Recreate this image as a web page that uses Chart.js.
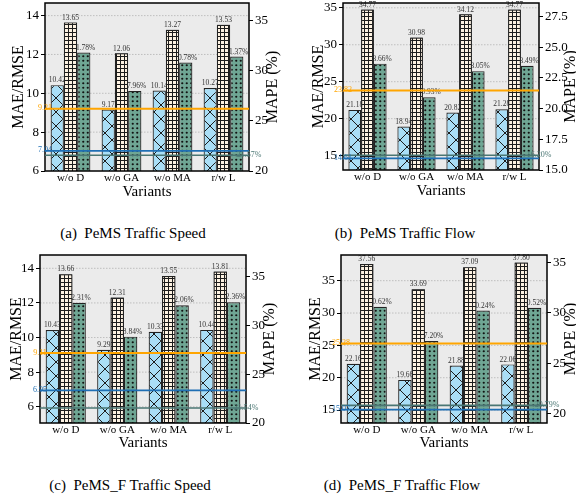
<!DOCTYPE html>
<html>
<head>
<meta charset="utf-8">
<script src="https://cdn.jsdelivr.net/npm/chart.js@4.4.1/dist/chart.umd.min.js"></script>
<style>
  body { margin: 0; background: #fff; width: 576px; height: 500px; position: relative; overflow: hidden; font-family: 'Liberation Serif', serif; }
  canvas { position: absolute; }
  .cap { position: absolute; font-size: 15px; line-height: 18px; white-space: pre; transform: translateX(-50%); color: #000; }
</style>
</head>
<body>
<canvas id="cA" width="288" height="200" style="left:0;top:0"></canvas>
<canvas id="cB" width="288" height="200" style="left:288px;top:0"></canvas>
<canvas id="cC" width="288" height="200" style="left:0;top:250px"></canvas>
<canvas id="cD" width="288" height="200" style="left:288px;top:250px"></canvas>
<div class="cap" style="left:133px;top:224px">(a)  PeMS Traffic Speed</div>
<div class="cap" style="left:405px;top:224px">(b)  PeMS Traffic Flow</div>
<div class="cap" style="left:130px;top:476px">(c)  PeMS_F Traffic Speed</div>
<div class="cap" style="left:402px;top:476px">(d)  PeMS_F Traffic Flow</div>
<script>
const FONT = "'Liberation Serif', 'Times New Roman', serif";
Chart.defaults.font.family = FONT;
Chart.defaults.color = '#000';

const variants = ['w/o D', 'w/o GA', 'w/o MA', 'r/w L'];

// (a) PeMS Traffic Speed
const maeA = [10.42, 9.17, 10.14, 10.27];
const rmseA = [13.65, 12.06, 13.27, 13.53];
const mapeA = [31.78, 27.96, 30.78, 31.37];
const refA = [9.21, 7.04, 21.57]; // orange, blue (MAE/RMSE axis), teal (MAPE axis)
const leftTicksA = ['6', '8', '10', '12', '14'];
const rightTicksA = ['20', '25', '30', '35'];
const leftRangeA = [6, 14.65];
const rightRangeA = [20, 36.7];

// (b) PeMS Traffic Flow
const maeB = [21.18, 18.94, 20.82, 21.28];
const rmseB = [34.77, 30.98, 34.12, 34.77];
const mapeB = [23.66, 20.93, 23.05, 23.49];
const refB = [23.82, 14.61, 16.20];
const leftTicksB = ['15', '20', '25', '30', '35'];
const rightTicksB = ['15.0', '17.5', '20.0', '22.5', '25.0', '27.5'];
const leftRangeB = [13.05, 35.65];
const rightRangeB = [15, 28.6];

// (c) PeMS_F Traffic Speed
const maeC = [10.43, 9.29, 10.33, 10.44];
const rmseC = [13.66, 12.31, 13.55, 13.81];
const mapeC = [32.31, 28.84, 32.06, 32.36];
const refC = [9.11, 6.95, 21.54];
const leftTicksC = ['6', '8', '10', '12', '14'];
const rightTicksC = ['20', '25', '30', '35'];
const leftRangeC = [5.06, 14.77];
const rightRangeC = [20, 37.2];

// (d) PeMS_F Traffic Flow
const maeD = [22.16, 19.66, 21.88, 22.06];
const rmseD = [37.56, 33.69, 37.09, 37.80];
const mapeD = [30.62, 27.20, 30.24, 30.52];
const refD = [25.28, 15.07, 20.79];
const leftTicksD = ['15', '20', '25', '30', '35'];
const rightTicksD = ['20', '25', '30', '35'];
const leftRangeD = [13, 38.97];
const rightRangeD = [19.03, 35.77];

// motifs des barres
function tile(size, draw) {
  const c = document.createElement('canvas');
  c.width = c.height = size;
  draw(c.getContext('2d'), size);
  return c;
}
const crossTile = tile(14, (g, s) => {
  g.fillStyle = '#a9def6'; g.fillRect(0, 0, s, s);
  g.strokeStyle = '#1c1c1c'; g.lineWidth = 1;
  g.beginPath();
  g.moveTo(-1, -1); g.lineTo(s + 1, s + 1);
  g.moveTo(s + 1, -1); g.lineTo(-1, s + 1);
  g.stroke();
});
const gridTile = tile(4, (g, s) => {
  g.fillStyle = '#fdf2e2'; g.fillRect(0, 0, s, s);
  g.fillStyle = '#1c1c1c'; g.fillRect(0, 0, s, 1); g.fillRect(0, 0, 1, s);
});
const dotTile = tile(9, (g, s) => {
  g.fillStyle = '#6fa694'; g.fillRect(0, 0, s, s);
  g.fillStyle = '#111';
  [[2.25, 2.25], [6.75, 2.25], [2.25, 6.75], [6.75, 6.75]].forEach(([x, y]) => {
    g.beginPath(); g.arc(x, y, 1.1, 0, Math.PI * 2); g.fill();
  });
});

const panelPlugin = {
  id: 'panel',
  beforeDraw(chart) {
    const { ctx, chartArea: a } = chart;
    const y = chart.scales.y;
    ctx.save();
    ctx.fillStyle = '#ebebeb';
    ctx.fillRect(a.left, a.top, a.width, a.height);
    ctx.strokeStyle = '#b4b4b4';
    ctx.lineWidth = 0.8;
    ctx.setLineDash([1.5, 1.5]);
    y.ticks.forEach(t => {
      const py = y.getPixelForValue(t.value);
      if (py > a.top + 1 && py < a.bottom - 1) {
        ctx.beginPath(); ctx.moveTo(a.left, py); ctx.lineTo(a.right, py); ctx.stroke();
      }
    });
    ctx.restore();
  },
  afterDatasetsDraw(chart, args, o) {
    const { ctx, chartArea: a } = chart;
    const label = (i, suffix) => {
      ctx.save();
      ctx.font = '7.5px ' + FONT;
      ctx.fillStyle = '#333';
      ctx.textAlign = 'center';
      ctx.textBaseline = 'bottom';
      chart.getDatasetMeta(i).data.forEach((bar, j) => {
        ctx.fillText(chart.data.datasets[i].data[j].toFixed(2) + suffix, bar.x, bar.y - 1);
      });
      ctx.restore();
    };
    label(0, '');
    label(2, '%');
    // les barres RMSE repassent par-dessus les étiquettes voisines
    ctx.save();
    ctx.beginPath(); ctx.rect(a.left, a.top, a.width, a.height); ctx.clip();
    chart.getDatasetMeta(1).data.forEach(bar => bar.draw(ctx));
    ctx.restore();
    label(1, '');

    ctx.save();
    // cadre
    ctx.strokeStyle = '#000'; ctx.lineWidth = 1.5;
    ctx.strokeRect(a.left, a.top, a.width, a.height);

    // lignes de référence
    const ly = chart.scales.y, ry = chart.scales.y1;
    const refs = [
      { s: ly, v: o.ref[0], c: '#ffa500', w: 2, side: 'left', suf: '' },
      { s: ly, v: o.ref[1], c: '#1f6fb4', w: 1.8, side: 'left', suf: '' },
      { s: ry, v: o.ref[2], c: '#4a7673', w: 1.6, side: 'right', suf: '%' }
    ];
    refs.forEach(r => {
      const py = r.s.getPixelForValue(r.v);
      ctx.strokeStyle = r.c; ctx.lineWidth = r.w;
      ctx.beginPath(); ctx.moveTo(a.left, py); ctx.lineTo(a.right, py); ctx.stroke();
    });
    ctx.font = '8px ' + FONT;
    ctx.textAlign = 'center';
    ctx.textBaseline = 'middle';
    refs.forEach(r => {
      const py = r.s.getPixelForValue(r.v);
      ctx.fillStyle = r.c;
      ctx.fillText(r.v.toFixed(2) + r.suf, r.side === 'left' ? a.left : a.right, py - 0.5);
    });

    // titres des axes
    ctx.fillStyle = '#000';
    ctx.font = '16px ' + FONT;
    const cy = (a.top + a.bottom) / 2;
    ctx.save();
    ctx.translate(o.box.tx, cy); ctx.rotate(-Math.PI / 2);
    ctx.fillText('MAE/RMSE', 0, 0);
    ctx.restore();
    ctx.save();
    ctx.translate(o.box.rtx, cy); ctx.rotate(-Math.PI / 2);
    ctx.fillText('MAPE (%)', 0, 0);
    ctx.restore();
    ctx.font = '15px ' + FONT;
    ctx.fillText('Variants', (a.left + a.right) / 2, o.box.vy);
    ctx.restore();
  }
};

function fixedTicks(labels) {
  return s => { s.ticks = labels.map(t => ({ value: parseFloat(t) })); };
}

function makePanel(id, mae, rmse, mape, ref, lt, rt, lr, rr, box) {
  const ctx = document.getElementById(id).getContext('2d');
  const tickGrid = { drawOnChartArea: false, drawTicks: true, tickLength: 4, color: '#000', tickColor: '#000' };
  new Chart(ctx, {
    type: 'bar',
    data: {
      labels: variants,
      datasets: [
        { label: 'MAE', data: mae, yAxisID: 'y', backgroundColor: ctx.createPattern(crossTile, 'repeat') },
        { label: 'RMSE', data: rmse, yAxisID: 'y', backgroundColor: ctx.createPattern(gridTile, 'repeat') },
        { label: 'MAPE', data: mape, yAxisID: 'y1', backgroundColor: ctx.createPattern(dotTile, 'repeat') }
      ]
    },
    options: {
      responsive: false,
      animation: false,
      layout: { padding: { top: box.t, left: 0, right: 0, bottom: 0 } },
      datasets: {
        bar: { categoryPercentage: 0.78, barPercentage: 1, borderColor: '#222', borderWidth: 1.2, borderSkipped: false }
      },
      scales: {
        x: {
          grid: { display: false, drawTicks: false },
          border: { display: false },
          ticks: { font: { size: 11 }, padding: 1, maxRotation: 0 },
          afterFit: s => { s.height = box.b; s.paddingLeft = 0; s.paddingRight = 0; }
        },
        y: {
          position: 'left',
          min: lr[0], max: lr[1],
          grid: tickGrid,
          border: { display: false },
          ticks: { font: { size: 13 }, padding: 2, autoSkip: false, callback: (v, i) => lt[i] },
          afterBuildTicks: fixedTicks(lt),
          afterFit: s => { s.width = box.l; s.paddingTop = 0; s.paddingBottom = 0; }
        },
        y1: {
          position: 'right',
          min: rr[0], max: rr[1],
          grid: tickGrid,
          border: { display: false },
          ticks: { font: { size: 13 }, padding: 2, autoSkip: false, callback: (v, i) => rt[i] },
          afterBuildTicks: fixedTicks(rt),
          afterFit: s => { s.width = box.r; s.paddingTop = 0; s.paddingBottom = 0; }
        }
      },
      plugins: {
        legend: { display: false },
        tooltip: { enabled: false },
        panel: { ref: ref, box: box }
      }
    },
    plugins: [panelPlugin]
  });
}

makePanel('cA', maeA, rmseA, mapeA, refA, leftTicksA, rightTicksA, leftRangeA, rightRangeA,
  { l: 45, r: 39, b: 29, t: 3, tx: 19, rtx: 273, vy: 192 });
makePanel('cB', maeB, rmseB, mapeB, refB, leftTicksB, rightTicksB, leftRangeB, rightRangeB,
  { l: 55, r: 37, b: 30, t: 3, tx: 31, rtx: 283, vy: 191 });
makePanel('cC', maeC, rmseC, mapeC, refC, leftTicksC, rightTicksC, leftRangeC, rightRangeC,
  { l: 40, r: 42, b: 27, t: 5, tx: 17, rtx: 270, vy: 193 });
makePanel('cD', maeD, rmseD, mapeD, refD, leftTicksD, rightTicksD, leftRangeD, rightRangeD,
  { l: 53, r: 29, b: 27, t: 5, tx: 28, rtx: 283, vy: 193 });
</script>
</body>
</html>
